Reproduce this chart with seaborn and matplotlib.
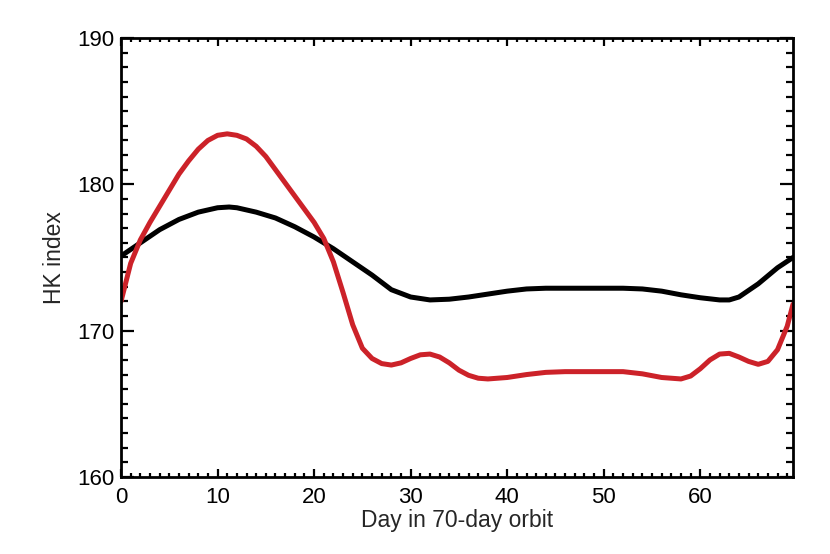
import numpy as np
import pandas as pd
import matplotlib
matplotlib.use("Agg")
import matplotlib.pyplot as plt
import seaborn as sns
from matplotlib.ticker import MultipleLocator

# black curve: day in orbit vs HK index
days_black = [0, 2, 4, 6, 8, 10, 11.2, 12, 14, 16, 18, 20, 22, 24, 26, 28, 30, 32,
              34, 36, 38, 40, 42, 44, 46, 48, 50, 52, 54, 56, 58, 60, 62, 63, 64,
              66, 68, 69.6]
hk_black = [175.1, 176.0, 176.9, 177.6, 178.1, 178.4, 178.45, 178.4, 178.1, 177.7,
            177.1, 176.4, 175.6, 174.7, 173.8, 172.8, 172.3, 172.1, 172.15, 172.3,
            172.5, 172.7, 172.85, 172.9, 172.9, 172.9, 172.9, 172.9, 172.85, 172.7,
            172.45, 172.25, 172.1, 172.1, 172.3, 173.2, 174.3, 175.0]

# red curve
days_red = [0, 1, 2, 3, 4, 5, 6, 7, 8, 9, 10, 11, 12, 13, 14, 15, 16, 17, 18, 19,
            20, 21, 22, 23, 24, 25, 26, 27, 28, 29, 30, 31, 32, 33, 34, 35, 36, 37,
            38, 40, 42, 44, 46, 48, 50, 52, 54, 56, 58, 59, 60, 61, 62, 63, 64, 65,
            66, 67, 68, 69, 69.6]
hk_red = [172.0, 174.6, 176.2, 177.4, 178.5, 179.6, 180.7, 181.6, 182.4, 183.0,
          183.35, 183.45, 183.35, 183.1, 182.6, 181.9, 181.0, 180.1, 179.2, 178.3,
          177.4, 176.3, 174.7, 172.6, 170.4, 168.8, 168.1, 167.75, 167.65, 167.8,
          168.1, 168.35, 168.4, 168.2, 167.8, 167.3, 166.95, 166.75, 166.7, 166.8,
          167.0, 167.15, 167.2, 167.2, 167.2, 167.2, 167.05, 166.8, 166.7, 166.9,
          167.4, 168.0, 168.4, 168.45, 168.2, 167.9, 167.7, 167.9, 168.7, 170.3,
          171.8]

sns.set_style("ticks")
plt.rcParams['font.family'] = ['Liberation Sans', 'DejaVu Sans']

fig = plt.figure(figsize=(8.3, 5.54), dpi=100)
ax = fig.add_axes([0.1458, 0.139, 0.8096, 0.7924])

sns.lineplot(x=days_black, y=hk_black, color='black', linewidth=3.6, ax=ax)
sns.lineplot(x=days_red, y=hk_red, color='#cc2229', linewidth=3.6, ax=ax)

ax.set_xlim(0, 69.6)
ax.set_ylim(160, 190)
ax.xaxis.set_major_locator(MultipleLocator(10))
ax.xaxis.set_minor_locator(MultipleLocator(1))
ax.yaxis.set_major_locator(MultipleLocator(10))
ax.yaxis.set_minor_locator(MultipleLocator(1))

for s in ax.spines.values():
    s.set_visible(True)
    s.set_linewidth(2.0)
    s.set_color('black')

ax.tick_params(which='both', direction='in', top=True, right=True, width=1.6,
               colors='black', labelsize=16)
ax.tick_params(axis='x', which='major', length=6, pad=7)
ax.tick_params(axis='x', which='minor', length=3)
ax.tick_params(axis='y', which='major', length=9.5, pad=5)
ax.tick_params(axis='y', which='minor', length=5)

ax.set_xlabel('Day in 70-day orbit', fontsize=16.5, labelpad=1)
ax.set_ylabel('HK index', fontsize=16.5, labelpad=8)

fig.savefig('out.png', dpi=100)
